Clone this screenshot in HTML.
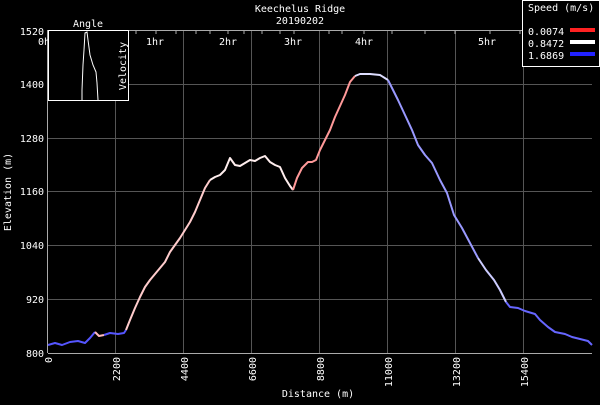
<!DOCTYPE html>
<html><head><style>
body{margin:0;background:#000;width:600px;height:400px;overflow:hidden}
svg text{font-family:"DejaVu Sans Mono","Liberation Mono",monospace;fill:#fff;font-size:10px}
</style></head><body>
<svg width="600" height="400" xmlns="http://www.w3.org/2000/svg">
<rect width="600" height="400" fill="#000"/>
<g stroke="#555" stroke-width="1">
<line x1="48" y1="84.5" x2="592" y2="84.5"/><line x1="48" y1="138.5" x2="592" y2="138.5"/>
<line x1="48" y1="191.5" x2="592" y2="191.5"/><line x1="48" y1="245.5" x2="592" y2="245.5"/>
<line x1="48" y1="299.5" x2="592" y2="299.5"/>
<line x1="115.5" y1="30" x2="115.5" y2="353"/><line x1="183.5" y1="30" x2="183.5" y2="353"/>
<line x1="251.5" y1="30" x2="251.5" y2="353"/><line x1="319.5" y1="30" x2="319.5" y2="353"/>
<line x1="387.5" y1="30" x2="387.5" y2="353"/><line x1="455.5" y1="30" x2="455.5" y2="353"/>
<line x1="523.5" y1="30" x2="523.5" y2="353"/>
</g>
<g stroke="#aaa" stroke-width="1">
<line x1="48" y1="30.5" x2="592" y2="30.5"/><line x1="48" y1="353.5" x2="592" y2="353.5"/>
<line x1="47.5" y1="30" x2="47.5" y2="353"/>
<path d="M136 30v4M156 30v4M176 30v4M196 30v4M210 30v4M228 30v4M244 30v4M262 30v4M280 30v4M294 30v4M329 30v4M342 30v4M364 30v4M392 30v4M425 30v4M455 30v4M490 30v4M520 30v4"/>
</g>
<text x="300" y="12" text-anchor="middle">Keechelus Ridge</text>
<text x="300" y="24" text-anchor="middle">20190202</text>
<g text-anchor="end">
<text x="44" y="35">1520</text><text x="44" y="88">1400</text><text x="44" y="142">1280</text>
<text x="44" y="195">1160</text><text x="44" y="249">1040</text><text x="44" y="303">920</text><text x="44" y="357">800</text>
</g>
<text x="38" y="45">0h</text><text x="146" y="45">1hr</text><text x="219" y="45">2hr</text><text x="284" y="45">3hr</text><text x="355" y="45">4hr</text><text x="478" y="45">5hr</text>
<g>
<text transform="translate(52,357) rotate(-90)" text-anchor="end">0</text>
<text transform="translate(120,357) rotate(-90)" text-anchor="end">2200</text>
<text transform="translate(188,357) rotate(-90)" text-anchor="end">4400</text>
<text transform="translate(256,357) rotate(-90)" text-anchor="end">6600</text>
<text transform="translate(324,357) rotate(-90)" text-anchor="end">8800</text>
<text transform="translate(392,357) rotate(-90)" text-anchor="end">11000</text>
<text transform="translate(460,357) rotate(-90)" text-anchor="end">13200</text>
<text transform="translate(528,357) rotate(-90)" text-anchor="end">15400</text>
</g>
<text x="318" y="397" text-anchor="middle">Distance (m)</text>
<text transform="translate(11,192) rotate(-90)" text-anchor="middle">Elevation (m)</text>
<g fill="none" stroke-width="2" stroke-linejoin="round">
<polyline stroke="#5555ff" points="48,345 55,343 62,345 70,342 78,341 85,343 90,338 95,332"/>
<polyline stroke="#ffbbbb" points="95,332 99,336 104,335"/>
<polyline stroke="#5555ff" points="104,335 110,333 118,334 124,333 126,330"/>
<polyline stroke="#ffcccc" points="126,330 130,320 135,308 140,297 145,287 150,280 155,274 160,268 165,262 170,252 175,245 180,238 185,230 190,222 195,212 200,200 205,188 210,180"/>
<polyline stroke="#ffeeee" points="210,180 215,177 220,175 225,170 230,158 235,165 240,166 245,163 250,160 255,161 260,158 265,156 270,162 275,165 280,167 285,178 290,186 293,190"/>
<polyline stroke="#ff9999" points="293,190 297,178 302,168 308,162 312,162 316,160 320,150 325,140 330,130 335,117 340,106 345,95 350,82 355,76"/>
<polyline stroke="#ddddff" points="355,76 360,74 370,74 380,75 388,80"/>
<polyline stroke="#9999ff" points="388,80 393,90 398,100 405,115 412,130 418,145 425,155 432,163 440,180 447,193 454,215 462,228 470,243 478,258"/>
<polyline stroke="#ccccff" points="478,258 486,270 494,280 500,290 506,302"/>
<polyline stroke="#6666ff" points="506,302 510,307 518,308 525,311 535,314 540,320 548,327 555,332 565,334 572,337 580,339 588,341 592,345"/>
</g>
<rect x="48.5" y="30.5" width="80" height="70" fill="#000" stroke="#fff"/>
<text x="88" y="27" text-anchor="middle">Angle</text>
<text transform="translate(126,66) rotate(-90)" text-anchor="middle">Velocity</text>
<polyline fill="none" stroke="#fff" stroke-width="1" points="82,100 82,90 83,65 84,50 85,33 87,32 88,40 90,55 93,65 96,72 97,83 98,100"/>
<rect x="522.5" y="0.5" width="77" height="66" fill="#000" stroke="#fff"/>
<text x="528" y="11">Speed (m/s)</text>
<text x="528" y="35">0.0074</text><text x="528" y="47">0.8472</text><text x="528" y="59">1.6869</text>
<rect x="570" y="28" width="25" height="4" fill="#ff2222"/>
<rect x="570" y="40" width="25" height="4" fill="#ffffff"/>
<rect x="570" y="52" width="25" height="4" fill="#2222ff"/>
</svg>
</body></html>
